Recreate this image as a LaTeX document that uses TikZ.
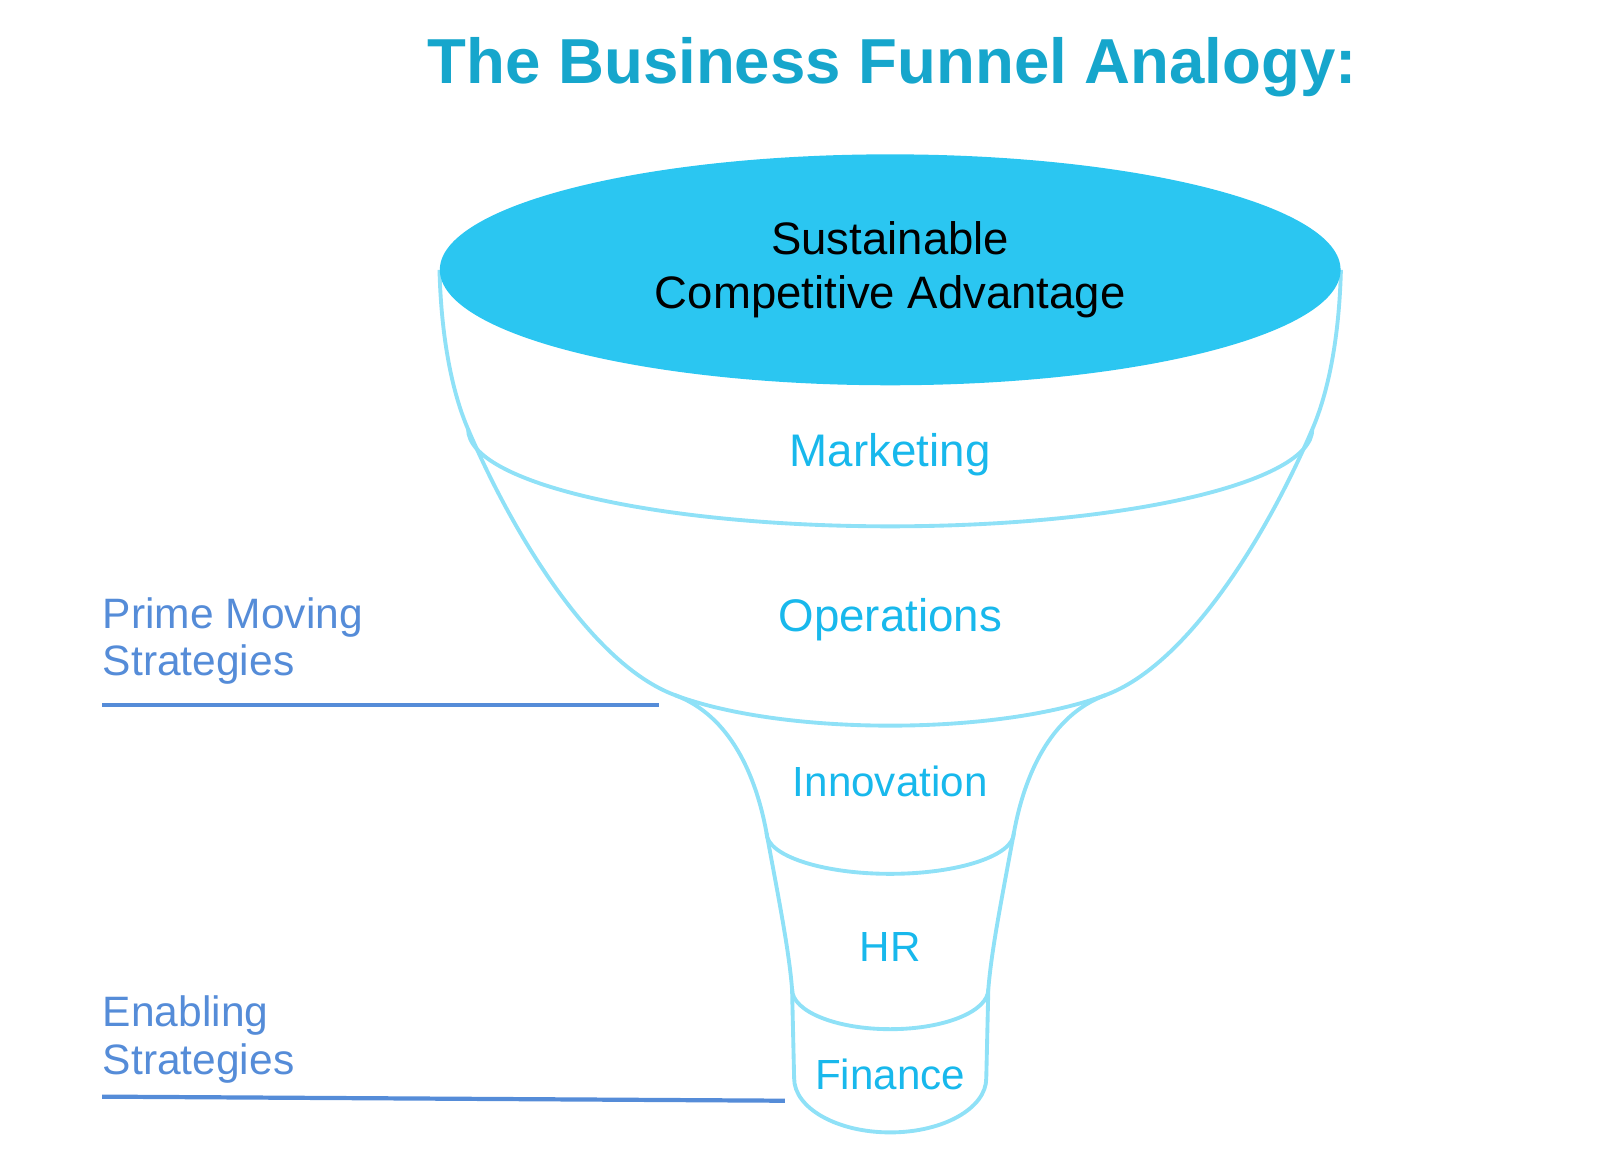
\documentclass[tikz,border=0pt]{standalone}
\usepackage{fontspec}
\setmainfont{Liberation Sans}
\usetikzlibrary{shapes.geometric}

\definecolor{titleblue}{HTML}{16A6CC}
\definecolor{topblue}{HTML}{2BC6F1}
\definecolor{rimblue}{HTML}{8FE1F7}
\definecolor{layerblue}{HTML}{18B8EC}
\definecolor{sideblue}{HTML}{558CD8}

\tikzset{
  rim/.style={draw=rimblue, line width=1.1pt},
  layer/.style={text=layerblue, font=\fontsize{13}{15}\selectfont, anchor=base},
  neck layer/.style={layer, font=\fontsize{12}{14}\selectfont},
  strategy/.style={text=sideblue, font=\fontsize{12.1}{13.4}\selectfont, align=left, anchor=north west, inner sep=0pt},
  strategyline/.style={draw=sideblue, line width=1.2pt}
}

\begin{document}
\begin{tikzpicture}[x=0.01022cm, y=-0.01022cm]
  \useasboundingbox (0,0) rectangle (1565.5,1127.2);

  \node[anchor=base, text=titleblue, font=\fontsize{18.1}{22}\selectfont\bfseries] (heading) at (873,82) {The Business Funnel Analogy:};

  % funnel outline
  \draw[rim] (430,264) .. controls (432,340) and (445,390) .. (458,420)
     .. controls (503,525) and (580,650) .. (660,680)
     .. controls (715,700) and (740,760) .. (750,815)
     .. controls (762,880) and (772,930) .. (775,968)
     -- (777,1055) arc[start angle=180, end angle=0, x radius=94, y radius=53]
     -- (967,968)
     .. controls (970,930) and (980,880) .. (992,815)
     .. controls (1002,760) and (1027,700) .. (1082,680)
     .. controls (1162,650) and (1239,525) .. (1284,420)
     .. controls (1297,390) and (1310,340) .. (1312,264);

  % layer rims
  \draw[rim] (458,420) arc[start angle=180, end angle=0, x radius=413, y radius=95];
  \draw[rim] (660,680) .. controls (767,720) and (975,720) .. (1082,680);
  \draw[rim] (750,815) arc[start angle=180, end angle=0, x radius=121, y radius=40];
  \draw[rim] (775,968) arc[start angle=180, end angle=0, x radius=96, y radius=39];

  \node[ellipse, fill=topblue, inner sep=0pt, minimum width=9.01cm, minimum height=2.31cm,
        align=center, font=\fontsize{12.95}{15.5}\selectfont] (advantage) at (871,264)
        {Sustainable\\Competitive Advantage};

  \node[layer] (marketing) at (871,456) {Marketing};
  \node[layer] (operations) at (871,618) {Operations};
  \node[neck layer] (innovation) at (871,779) {Innovation};
  \node[neck layer] (hr) at (871,941) {HR};
  \node[neck layer] (finance) at (871,1066) {Finance};

  \node[strategy] (prime) at (100,584) {Prime Moving\\Strategies};
  \node[strategy] (enabling) at (100,974) {Enabling\\Strategies};

  \coordinate (primeL) at (100,690);
  \coordinate (primeR) at (645,690);
  \coordinate (enablingL) at (100,1073);
  \coordinate (enablingR) at (768,1077);
  \draw[strategyline] (primeL) -- (primeR);
  \draw[strategyline] (enablingL) -- (enablingR);
\end{tikzpicture}
\end{document}
